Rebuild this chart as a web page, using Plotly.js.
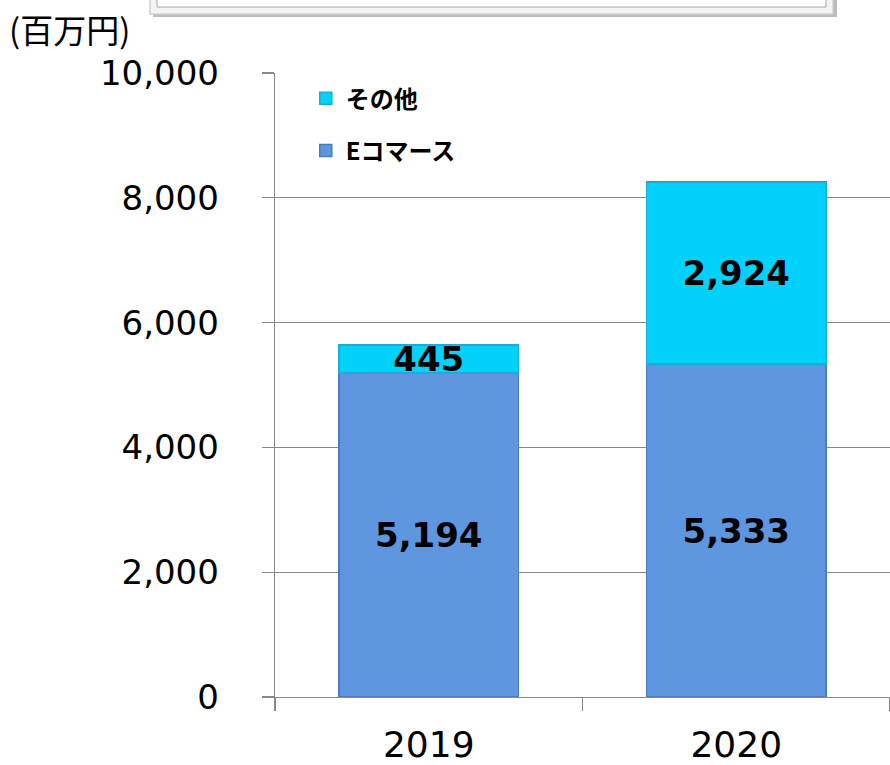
<!DOCTYPE html>
<html>
<head>
<meta charset="utf-8">
<script src="https://cdn.plot.ly/plotly-3.0.1.min.js"></script>
<style>html,body{margin:0;padding:0;background:#fff;}#chart{width:890px;height:765px;}</style>
</head>
<body>
<div id="chart"></div>
<script>
const years = ['2019', '2020'];
const ecommerce = [5194, 5333];
const other = [445, 2924];
const seriesNames = ['Eコマース', 'その他'];
const yTicks = [0, 2000, 4000, 6000, 8000, 10000];
const yTickLabels = ['0', '2,000', '4,000', '6,000', '8,000', '10,000'];
const unitLabel = '(百万円)';

const fmt = v => v.toLocaleString('en-US');
const labelFont = {family: 'DejaVu Sans, Verdana, sans-serif', size: 34, color: '#000'};

const traces = [
  {
    type: 'bar', name: seriesNames[0], x: years, y: ecommerce,
    text: ecommerce.map(fmt), textposition: 'inside', insidetextanchor: 'middle',
    textangle: 0, constraintext: 'none', cliponaxis: false,
    textfont: Object.assign({}, labelFont, {weight: 'bold'}),
    marker: {color: '#5e97df', line: {color: '#4a7cc0', width: 1.5}},
    width: 0.585, legendgroup: 'b', legendrank: 2, hoverinfo: 'none'
  },
  {
    type: 'bar', name: seriesNames[1], x: years, y: other,
    text: other.map(fmt), textposition: 'inside', insidetextanchor: 'middle',
    textangle: 0, constraintext: 'none', cliponaxis: false,
    textfont: Object.assign({}, labelFont, {weight: 'bold'}),
    marker: {color: '#00d2fc', line: {color: '#1aaed6', width: 1.5}},
    width: 0.585, legendgroup: 'a', legendrank: 1, hoverinfo: 'none'
  }
];

const layout = {
  width: 890, height: 765,
  margin: {l: 275, r: 0, t: 73, b: 68},
  paper_bgcolor: '#fff', plot_bgcolor: '#fff',
  barmode: 'stack',
  showlegend: true,
  legend: {
    x: 0.05, y: 0.995, xanchor: 'left', yanchor: 'top',
    traceorder: 'grouped', tracegroupgap: 18,
    bgcolor: 'rgba(0,0,0,0)',
    font: {family: 'Noto Sans CJK JP, sans-serif', size: 24, color: '#000', weight: 'bold'}
  },
  xaxis: {
    type: 'category', range: [-0.5, 1.5],
    tickson: 'boundaries', ticks: 'outside', ticklen: 13, tickcolor: '#888', tickwidth: 1.3,
    showline: true, linecolor: '#888', linewidth: 1.3,
    showgrid: false, zeroline: false,
    tickfont: {family: 'DejaVu Sans, Verdana, sans-serif', size: 36, color: '#000'},
    ticklabelstandoff: 15
  },
  yaxis: {
    range: [0, 10000], tickvals: yTicks, ticktext: yTickLabels,
    ticks: 'outside', ticklen: 12, tickcolor: '#888', tickwidth: 1.3,
    showline: true, linecolor: '#888', linewidth: 1.3,
    showgrid: true, gridcolor: '#888', gridwidth: 1.3, zeroline: false,
    tickfont: {family: 'DejaVu Sans, Verdana, sans-serif', size: 34, color: '#000'},
    ticklabelstandoff: 36
  },
  annotations: [
    {text: unitLabel, xref: 'paper', yref: 'paper', x: -275/615 + 0.012, y: 1 + 44/624,
     xanchor: 'left', yanchor: 'middle', showarrow: false,
     font: {family: 'Noto Sans CJK JP, sans-serif', size: 33, color: '#000'}}
  ],
  shapes: [
    {type: 'rect', xref: 'paper', yref: 'paper', x0: -122/615, x1: 562/615, y0: 1 + 56/624, y1: 1 + 90/624,
     line: {color: 'rgba(0,0,0,0)', width: 0}, fillcolor: '#bdbdbd', layer: 'below'},
    {type: 'rect', xref: 'paper', yref: 'paper', x0: -125/615, x1: 558/615, y0: 1 + 59/624, y1: 1 + 90/624,
     line: {color: '#d0d0d0', width: 1.5}, fillcolor: '#f4f4f4', layer: 'below'},
    {type: 'rect', xref: 'paper', yref: 'paper', x0: -118/615, x1: 551/615, y0: 1 + 66/624, y1: 1 + 90/624,
     line: {color: '#a8a8a8', width: 1}, fillcolor: '#ffffff', layer: 'below'}
  ]
};

Plotly.newPlot('chart', traces, layout, {displayModeBar: false, staticPlot: true});
</script>
</body>
</html>
